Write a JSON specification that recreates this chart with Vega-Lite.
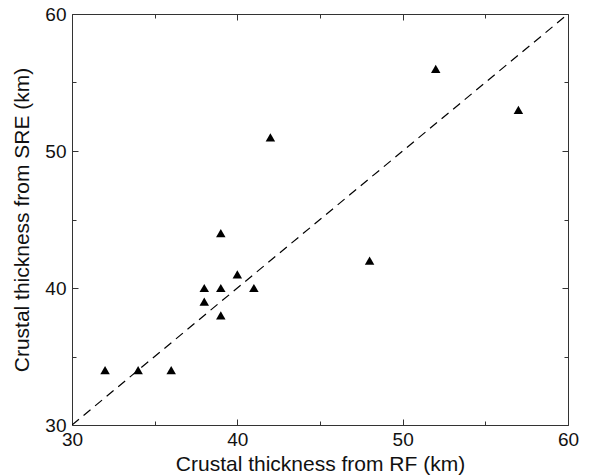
{
  "$schema": "https://vega.github.io/schema/vega-lite/v6.json",
  "width": 496,
  "height": 411,
  "autosize": "none",
  "padding": {"left": 72, "top": 14, "right": 22, "bottom": 51},
  "background": "white",
  "config": {
    "view": {"stroke": null},
    "font": "Liberation Sans",
    "axis": {
      "grid": false,
      "domainColor": "#333",
      "tickColor": "#333",
      "labelColor": "#111",
      "titleColor": "#111",
      "labelFontSize": 19,
      "titleFontSize": 21,
      "titleFontWeight": "normal",
      "labelFont": "Liberation Sans",
      "titleFont": "Liberation Sans"
    }
  },
  "datasets": {
    "pts": [
      {"rf": 32, "sre": 34},
      {"rf": 34, "sre": 34},
      {"rf": 36, "sre": 34},
      {"rf": 38, "sre": 40},
      {"rf": 38, "sre": 39},
      {"rf": 39, "sre": 40},
      {"rf": 39, "sre": 38},
      {"rf": 39, "sre": 44},
      {"rf": 40, "sre": 41},
      {"rf": 41, "sre": 40},
      {"rf": 42, "sre": 51},
      {"rf": 48, "sre": 42},
      {"rf": 52, "sre": 56},
      {"rf": 57, "sre": 53}
    ],
    "diag": [
      {"rf": 30, "sre": 30},
      {"rf": 60, "sre": 60}
    ]
  },
  "layer": [
    {
      "data": {"name": "diag"},
      "mark": {"type": "line", "color": "black", "strokeWidth": 1.2, "strokeDash": [9, 6], "clip": true},
      "encoding": {
        "x": {
          "field": "rf", "type": "quantitative",
          "scale": {"domain": [30, 60], "nice": false, "zero": false},
          "axis": {
            "orient": "bottom",
            "title": "Crustal thickness from RF (km)",
            "values": [30, 35, 40, 45, 50, 55, 60],
            "labelExpr": "datum.value % 10 === 0 ? datum.label : ''",
            "tickSize": {"condition": {"test": "datum.value % 10 === 0", "value": -6}, "value": -4},
            "labelPadding": 11,
            "titlePadding": 4,
            "labelFlush": false
          }
        },
        "y": {
          "field": "sre", "type": "quantitative",
          "scale": {"domain": [30, 60], "nice": false, "zero": false},
          "axis": {
            "orient": "left",
            "title": "Crustal thickness from SRE (km)",
            "values": [30, 35, 40, 45, 50, 55, 60],
            "labelExpr": "datum.value % 10 === 0 ? datum.label : ''",
            "tickSize": {"condition": {"test": "datum.value % 10 === 0", "value": -6}, "value": -4},
            "labelPadding": 12,
            "titlePadding": 12,
            "labelFlush": false
          }
        }
      }
    },
    {
      "data": {"name": "pts"},
      "mark": {"type": "point", "shape": "triangle-up", "filled": true, "color": "black", "opacity": 1, "size": 90},
      "encoding": {
        "x": {
          "field": "rf", "type": "quantitative",
          "axis": {
            "orient": "top", "title": null, "labels": false,
            "values": [30, 35, 40, 45, 50, 55, 60],
            "tickSize": {"condition": {"test": "datum.value % 10 === 0", "value": -6}, "value": -4}
          }
        },
        "y": {
          "field": "sre", "type": "quantitative",
          "axis": {
            "orient": "right", "title": null, "labels": false,
            "values": [30, 35, 40, 45, 50, 55, 60],
            "tickSize": {"condition": {"test": "datum.value % 10 === 0", "value": -6}, "value": -4}
          }
        }
      }
    }
  ],
  "resolve": {"axis": {"x": "independent", "y": "independent"}}
}
